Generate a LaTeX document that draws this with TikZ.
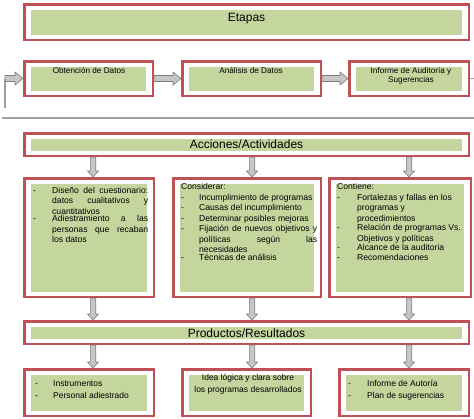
\documentclass[tikz,border=0pt]{standalone}
\usepackage{fontspec}
\setmainfont{Liberation Sans}
\usetikzlibrary{calc}
\frenchspacing
\definecolor{bred}{RGB}{192,80,86}
\definecolor{bgreen}{RGB}{196,214,158}
\definecolor{agray}{RGB}{198,198,198}
\definecolor{adark}{RGB}{125,125,125}
\definecolor{lgray}{RGB}{160,160,160}
\tikzset{
  redbox/.style={draw=bred,line width=2.5pt,fill=white,inner sep=0pt},
  greenbox/.style={fill=bgreen,draw=none,inner sep=0pt},
  barrow/.style={fill=agray,draw=adark,line width=0.6pt,line join=miter},
  hdr/.style={inner sep=0pt,anchor=base,font=\fontsize{12}{14}\selectfont},
  stage/.style={inner sep=0pt,anchor=north,align=center,font=\fontsize{8.2}{9}\selectfont},
  coltxt/.style={inner sep=0pt,anchor=north west,align=left,font=\fontsize{8.6}{10.5}\selectfont},
  restxt/.style={inner sep=0pt,anchor=north west,font=\fontsize{8.5}{12}\selectfont},
  thinline/.style={draw=lgray,line width=1.4pt},
  sepline/.style={draw=lgray,line width=2pt},
}
\newcommand\rbox[5]{%
  \pgfmathsetmacro\cx{(#2+#4)/2}\pgfmathsetmacro\cy{(#3+#5)/2}%
  \pgfmathsetmacro\ww{#4-#2-2.5}\pgfmathsetmacro\hh{#5-#3-2.5}%
  \pgfmathsetmacro\gw{#4-#2-16}\pgfmathsetmacro\gh{#5-#3-13}%
  \node[redbox,minimum width=\ww pt,minimum height=\hh pt] (#1) at (\cx,\cy) {};
  \node[greenbox,minimum width=\gw pt,minimum height=\gh pt] (#1g) at (\cx,\cy) {};}
\newcommand\harr[2]{%
  \draw[barrow] ($(#1)+(0,-3)$) -- ($(#2)+(-8,-3)$) -- ($(#2)+(-8,-6.5)$) -- (#2)
    -- ($(#2)+(-8,6.5)$) -- ($(#2)+(-8,3)$) -- ($(#1)+(0,3)$) -- cycle;}
\newcommand\varr[3]{%
  \coordinate (vs) at (#1.south -| #3);
  \coordinate (vt) at (#2.north -| #3);
  \draw[barrow] ($(vs)+(-2.7,0)$) -- ($(vt)+(-2.7,-6)$) -- ($(vt)+(-5.5,-6)$) -- (vt)
    -- ($(vt)+(5.5,-6)$) -- ($(vt)+(2.7,-6)$) -- ($(vs)+(2.7,0)$) -- cycle;}
\newcommand\itset{\leftskip=0pt\spaceskip=0pt\xspaceskip=0pt\parindent=0pt\hyphenpenalty=10000\exhyphenpenalty=10000\tolerance=9999\relax}
% justified item: dash box width, text width, text
\newcommand\itm[3]{\par\noindent\makebox[#1][l]{-}\vtop{\hsize=#2\relax\itset\rightskip=0pt\parfillskip=0pt plus 1fil\relax\noindent #3}}
% ragged item
\newcommand\itr[3]{\par\noindent\makebox[#1][l]{-}\vtop{\hsize=#2\relax\itset\rightskip=0pt plus 1fil\parfillskip=0pt plus 1fil\relax\noindent #3}}
\begin{document}
\begin{tikzpicture}[x=1pt,y=-1pt]
\useasboundingbox (0,0) rectangle (474,418);
% boxes
\rbox{etapas}{23}{3}{470}{41}
\rbox{obt}{23}{60}{154}{97}
\rbox{ana}{181}{60}{322}{97}
\rbox{inf}{348}{60}{470}{97}
\rbox{acc}{23}{132}{470}{157}
\rbox{colA}{23}{177}{155}{298}
\rbox{colB}{172}{177}{322}{298}
\rbox{colC}{328}{177}{472}{298}
\rbox{prod}{23}{320}{470}{345}
\rbox{resA}{23}{368}{155}{417}
\rbox{resB}{181}{368}{312}{417}
\rbox{resC}{338}{368}{470}{417}
% headers
\node[hdr] (tEtapas) at (246.5,21) {Etapas};
\node[hdr] (tAcc) at (246.5,148.5) {Acciones/Actividades};
\node[hdr] (tProd) at (246.5,337) {Productos/Resultados};
% stages
\node[stage] (tObt) at (89,67.5) {Obtención de Datos};
\node[stage] (tAna) at (251,67.5) {Análisis de Datos};
\node[stage] (tInf) at (411,67.5) {Informe de Auditoría y\\Sugerencias};
% columns
\node[coltxt,text width=118pt] (tColA) at (33,182.5) {%
\itm{19pt}{96pt}{Diseño del cuestionario: datos cualitativos y cuantitativos}
\itm{19pt}{96pt}{Adiestramiento a las personas que recaban los datos}};
\node[coltxt,text width=140pt] (tColB) at (181,183.5) {%
\noindent Considerar:
\itm{18pt}{118pt}{Incumplimiento de programas}
\itm{18pt}{118pt}{Causas del incumplimiento}
\itm{18pt}{118pt}{Determinar posibles mejoras}
\itm{18pt}{118pt}{Fijación de nuevos objetivos y\linebreak políticas según las\linebreak necesidades}
\itm{18pt}{118pt}{Técnicas de análisis}};
\node[coltxt,text width=128pt] (tColC) at (337,183.5) {%
\noindent Contiene:
\itr{20pt}{105pt}{Fortalezas y fallas en los\linebreak programas y\linebreak procedimientos}
\itr{20pt}{105pt}{Relación de programas Vs.\linebreak Objetivos y políticas}
\itr{20pt}{105pt}{Alcance de la auditoria}
\itr{20pt}{105pt}{Recomendaciones}};
% results
\node[restxt,text width=112pt,align=left] (tResA) at (35,374) {%
\itr{18pt}{92pt}{Instrumentos}
\itr{18pt}{92pt}{Personal adiestrado}};
\node[restxt,anchor=north,align=center] (tResB) at (248,374) {Idea lógica y clara sobre\\los programas desarrollados};
\node[restxt,text width=112pt,align=left] (tResC) at (348,374) {%
\itr{19pt}{92pt}{Informe de Autoría}
\itr{19pt}{92pt}{Plan de sugerencias}};
% entry / exit / separator
\coordinate (entry) at (5,108);
\coordinate (ebend) at (entry |- obt.west);
\draw[thinline] (entry) -- (ebend);
\harr{ebend}{obt.west}
\harr{obt.east}{ana.west}
\harr{ana.east}{inf.west}
\coordinate (exit) at (474,77);
\draw[thinline,line width=0.8pt] (inf.east) -- (exit |- inf.east);
\coordinate (sepL) at (2,117.5);
\coordinate (sepR) at (474,117.5);
\draw[sepline] (sepL) -- (sepR);
% vertical arrows
\coordinate (xa) at (93,0);
\coordinate (xb) at (252,0);
\coordinate (xc) at (409,0);
\varr{acc}{colA}{xa}
\varr{acc}{colB}{xb}
\varr{acc}{colC}{xc}
\varr{colA}{prod}{xa}
\varr{colB}{prod}{xb}
\varr{colC}{prod}{xc}
\varr{prod}{resA}{xa}
\varr{prod}{resB}{xb}
\varr{prod}{resC}{xc}
\end{tikzpicture}
\end{document}
